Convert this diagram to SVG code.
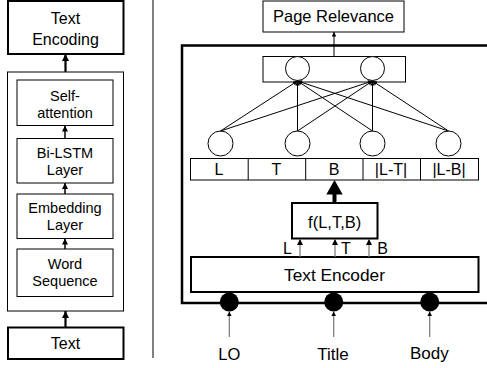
<svg xmlns="http://www.w3.org/2000/svg" width="487" height="368" viewBox="0 0 487 368">
<defs>
<style>
.t{font-family:"Liberation Sans",Arial,sans-serif;fill:#000;text-anchor:middle}
.box{fill:#fff;stroke:#000;stroke-width:1}
.thick{fill:#fff;stroke:#000;stroke-width:2}
.ln{stroke:#000;stroke-width:1;fill:none}
.gray{stroke:#777;stroke-width:1.2;fill:none}
.circ{fill:#fff;stroke:#000;stroke-width:1}
</style>
<marker id="aBig" viewBox="0 0 10 10" refX="10" refY="5" markerUnits="userSpaceOnUse" markerWidth="7" markerHeight="7" orient="auto"><path d="M0,0L10,5L0,10z" fill="#000"/></marker>
<marker id="aMid" viewBox="0 0 10 10" refX="10" refY="5" markerUnits="userSpaceOnUse" markerWidth="6" markerHeight="6" orient="auto"><path d="M0,0L10,5L0,10z" fill="#000"/></marker>
<marker id="aSm" viewBox="0 0 10 10" refX="10" refY="5" markerUnits="userSpaceOnUse" markerWidth="5" markerHeight="4.5" orient="auto"><path d="M0,0L10,5L0,10z" fill="#000"/></marker>
</defs>
<rect width="487" height="368" fill="#fff"/>

<!-- left panel -->
<g id="text-encoding"><rect class="thick" x="8" y="1" width="115.5" height="53"/><text class="t" font-size="16" x="65.5" y="24">Text</text><text class="t" font-size="16" x="65.5" y="45">Encoding</text></g>
<g id="encoder-frame"><rect class="box" x="7.5" y="72" width="116" height="239"/></g>
<g id="self-attention"><rect class="box" x="17" y="80" width="96" height="45.5"/><text class="t" font-size="14.5" x="65" y="101">Self-</text><text class="t" font-size="14.5" x="65" y="118">attention</text></g>
<g id="bilstm"><rect class="box" x="17" y="138.5" width="96" height="44.5"/><text class="t" font-size="14.5" x="65" y="158">Bi-LSTM</text><text class="t" font-size="14.5" x="65" y="175">Layer</text></g>
<g id="embedding"><rect class="box" x="17" y="194" width="96" height="44.5"/><text class="t" font-size="14.5" x="65" y="213">Embedding</text><text class="t" font-size="14.5" x="65" y="230">Layer</text></g>
<g id="word-sequence"><rect class="box" x="17" y="249" width="96" height="47.5"/><text class="t" font-size="14.5" x="65" y="269">Word</text><text class="t" font-size="14.5" x="65" y="286">Sequence</text></g>
<g id="text-input"><rect class="thick" x="8" y="327.5" width="115.5" height="31.5"/><text class="t" font-size="16" x="65.5" y="349">Text</text></g>
<g id="separator"><line class="ln" x1="153" y1="0" x2="153" y2="358"/></g>

<!-- right panel -->
<g id="page-relevance"><rect class="box" x="263" y="1" width="141" height="31"/><text class="t" font-size="16.5" x="333.5" y="22">Page Relevance</text></g>
<g id="model-frame"><rect x="182" y="45.5" width="310" height="257.5" fill="none" stroke="#000" stroke-width="2.5"/></g>
<g id="output-layer"><rect class="box" x="263" y="56.5" width="142.5" height="25.5"/><circle class="circ" cx="297.5" cy="68.5" r="12"/><circle class="circ" cx="372.5" cy="68.5" r="12"/></g>
<g id="hidden-nodes"><circle class="circ" cx="220.5" cy="143.5" r="12.5"/><circle class="circ" cx="297.5" cy="143.5" r="12.5"/><circle class="circ" cx="372.5" cy="143.5" r="12.5"/><circle class="circ" cx="448.5" cy="143.5" r="12.5"/></g>
<g id="feature-row"><rect class="box" x="190.5" y="158.5" width="288" height="21.5"/>
<line class="ln" x1="248.2" y1="158.5" x2="248.2" y2="180"/><line class="ln" x1="305.7" y1="158.5" x2="305.7" y2="180"/><line class="ln" x1="363" y1="158.5" x2="363" y2="180"/><line class="ln" x1="420.5" y1="158.5" x2="420.5" y2="180"/>
<text class="t" font-size="16" x="219" y="175">L</text><text class="t" font-size="16" x="276.5" y="175">T</text><text class="t" font-size="16" x="334" y="175">B</text><text class="t" font-size="16" x="391" y="175">|L-T|</text><text class="t" font-size="16" x="449" y="175">|L-B|</text></g>
<g id="f-box"><rect class="thick" x="292" y="203" width="85.5" height="35.5"/><text class="t" font-size="16.5" x="334.7" y="228">f(L,T,B)</text></g>
<g id="text-encoder"><rect class="thick" x="191" y="257" width="287.5" height="35"/><text class="t" font-size="17.3" x="334.5" y="281">Text Encoder</text></g>
<g id="inputs">
<circle cx="229.3" cy="302" r="9.5" fill="#000"/><circle cx="333.7" cy="302" r="9.5" fill="#000"/><circle cx="429.7" cy="302" r="9.5" fill="#000"/>
<text class="t" font-size="16.5" x="229.3" y="360">LO</text><text class="t" font-size="17" x="333" y="360">Title</text><text class="t" font-size="17" x="429.3" y="359">Body</text>
<text class="t" font-size="16" x="287.5" y="254">L</text><text class="t" font-size="16" x="346" y="254">T</text><text class="t" font-size="16" x="382.5" y="254">B</text>
</g>

<g id="connectors">
<line x1="65.5" y1="327.5" x2="65.5" y2="311" stroke="#000" stroke-width="2.2" marker-end="url(#aBig)"/>
<line x1="65.5" y1="72" x2="65.5" y2="54" stroke="#000" stroke-width="2.2" marker-end="url(#aBig)"/>
<line x1="65" y1="249" x2="65" y2="238.5" stroke="#000" stroke-width="1.5" marker-end="url(#aMid)"/>
<line x1="65" y1="194" x2="65" y2="183" stroke="#000" stroke-width="1.5" marker-end="url(#aMid)"/>
<line x1="65" y1="138.5" x2="65" y2="125.5" stroke="#000" stroke-width="1.5" marker-end="url(#aMid)"/>
<line class="ln" x1="334" y1="56.5" x2="334" y2="32" marker-end="url(#aSm)"/>
<line class="ln" x1="220.5" y1="131" x2="297.5" y2="81" marker-end="url(#aSm)"/>
<line class="ln" x1="220.5" y1="131" x2="372.5" y2="81" marker-end="url(#aSm)"/>
<line class="ln" x1="297.5" y1="131" x2="297.5" y2="81" marker-end="url(#aSm)"/>
<line class="ln" x1="297.5" y1="131" x2="372.5" y2="81" marker-end="url(#aSm)"/>
<line class="ln" x1="372.5" y1="131" x2="297.5" y2="81" marker-end="url(#aSm)"/>
<line class="ln" x1="372.5" y1="131" x2="372.5" y2="81" marker-end="url(#aSm)"/>
<line class="ln" x1="448.5" y1="131" x2="297.5" y2="81" marker-end="url(#aSm)"/>
<line class="ln" x1="448.5" y1="131" x2="372.5" y2="81" marker-end="url(#aSm)"/>
<path d="M332.5,203 V194.5 H326.3 L334.5,180 L342.7,194.5 H336.5 V203 z" fill="#000"/>
<line class="gray" x1="300" y1="257" x2="300" y2="239" marker-end="url(#aMid)"/>
<line class="gray" x1="335" y1="257" x2="335" y2="239" marker-end="url(#aMid)"/>
<line class="gray" x1="369" y1="257" x2="369" y2="239" marker-end="url(#aMid)"/>
<line class="gray" x1="229.3" y1="337" x2="229.3" y2="311.5" marker-end="url(#aSm)"/>
<line class="gray" x1="333.7" y1="337" x2="333.7" y2="311.5" marker-end="url(#aSm)"/>
<line class="gray" x1="429.7" y1="337" x2="429.7" y2="311.5" marker-end="url(#aSm)"/>
</g>
</svg>
